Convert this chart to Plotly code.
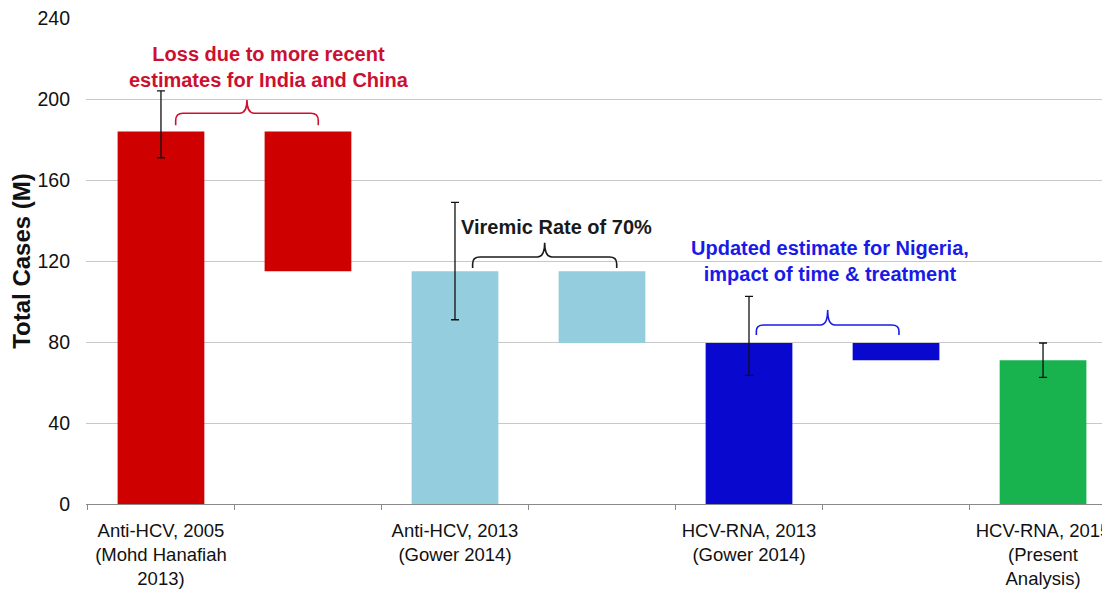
import plotly.graph_objects as go

# ---- data ----
categories = [
    "Anti-HCV, 2005<br>(Mohd Hanafiah<br>2013)",
    "Anti-HCV, 2013<br>(Gower 2014)",
    "HCV-RNA, 2013<br>(Gower 2014)",
    "HCV-RNA, 2015<br>(Present<br>Analysis)",
]
totals = [184, 115, 79.5, 71]
err_upper = [204, 149, 102.5, 79.5]
err_lower = [171, 91, 63.5, 62.5]
bar_colors = ["#CE0000", "#93CDDE", "#0808CE", "#18B34E"]
y_ticks = [0, 40, 80, 120, 160, 200, 240]

notes = [
    "Loss due to more recent<br>estimates for India and China",
    "Viremic Rate of 70%",
    "Updated estimate for Nigeria,<br>impact of time & treatment",
]
note_colors = ["#CC1030", "#1A1A1A", "#1A1AE8"]

FONT = "Liberation Sans, Arial, sans-serif"

# positions: totals at even slots, drops at odd slots
x_tot = [2 * i for i in range(len(totals))]
x_drop = [2 * i + 1 for i in range(len(totals) - 1)]
drop_base = [totals[i + 1] for i in range(len(totals) - 1)]
drop_len = [totals[i] - totals[i + 1] for i in range(len(totals) - 1)]

fig = go.Figure()
fig.add_trace(go.Bar(
    x=x_tot, y=totals, width=0.59,
    marker=dict(color=bar_colors, line=dict(width=0)),
    error_y=dict(type="data", symmetric=False,
                 array=[u - t for u, t in zip(err_upper, totals)],
                 arrayminus=[t - l for t, l in zip(totals, err_lower)],
                 color="#111111", thickness=1.3, width=4),
    showlegend=False, hoverinfo="skip",
))
fig.add_trace(go.Bar(
    x=x_drop, y=drop_len, base=drop_base, width=0.59,
    marker=dict(color=bar_colors[:-1], line=dict(width=0)),
    showlegend=False, hoverinfo="skip",
))


def bracket(x0, x1, yb, yl, yp, color):
    xm = (x0 + x1) / 2
    dx = 0.05
    dy = (yl - yb) * 0.6
    path = (f"M {x0},{yb} L {x0},{yl - dy} Q {x0},{yl} {x0 + dx},{yl} "
            f"L {xm - dx},{yl} Q {xm},{yl} {xm},{yp} "
            f"Q {xm},{yl} {xm + dx},{yl} L {x1 - dx},{yl} Q {x1},{yl} {x1},{yl - dy} L {x1},{yb}")
    fig.add_shape(type="path", path=path, xref="x", yref="y",
                  line=dict(color=color, width=1.6))


bracket(0.10, 1.07, 187, 193, 199.5, note_colors[0])
bracket(2.12, 3.10, 116.5, 122, 129, note_colors[1])
bracket(4.05, 5.02, 83.5, 88.4, 95.8, "#1A1AE8")

fig.add_annotation(x=0.735, y=215.6, xref="x", yref="y", text=notes[0],
                   showarrow=False, yanchor="middle",
                   font=dict(family=FONT, size=20, color=note_colors[0], weight="bold"))
fig.add_annotation(x=2.69, y=136.8, xref="x", yref="y", text=notes[1],
                   showarrow=False, yanchor="middle",
                   font=dict(family=FONT, size=20, color=note_colors[1], weight="bold"))
fig.add_annotation(x=4.55, y=120.2, xref="x", yref="y", text=notes[2],
                   showarrow=False, yanchor="middle",
                   font=dict(family=FONT, size=20, color=note_colors[2], weight="bold"))

fig.update_layout(
    width=1110, height=603,
    margin=dict(l=78, r=0, t=10, b=107),
    paper_bgcolor="white", plot_bgcolor="white",
    barmode="overlay",
    font=dict(family=FONT, size=19, color="#111111"),
    xaxis=dict(
        range=[-0.51, 6.51], automargin=False,
        tickmode="array", tickvals=x_tot, ticktext=categories,
        ticks="", showgrid=False, zeroline=False,
        showline=True, linecolor="#8A8A8A", linewidth=1.2,
        ticklabelstandoff=10, ticklabeloverflow="allow",
        tickfont=dict(family=FONT, size=18.5, color="#111111"),
        minor=dict(ticks="outside", tick0=0.5, dtick=1, ticklen=5,
                   tickcolor="#8A8A8A", showgrid=False),
    ),
    yaxis=dict(
        range=[0, 240], tickmode="array", tickvals=y_ticks, automargin=False,
        showgrid=True, gridcolor="#C8C8C8", gridwidth=1.2,
        zeroline=False, showline=False, ticks="", ticklabelstandoff=15,
        ticklabeloverflow="allow",
        tickfont=dict(family=FONT, size=19.5, color="#111111"),
        title=dict(text="<b>Total Cases (M)</b>", standoff=4,
                   font=dict(family=FONT, size=24, color="#111111")),
    ),
)

fig.write_html("out.html")
